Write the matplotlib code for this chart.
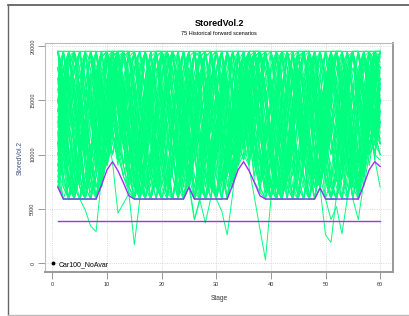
import matplotlib
matplotlib.use("Agg")
import matplotlib.pyplot as plt
from matplotlib.lines import Line2D

plt.rcParams["font.family"] = ["Liberation Sans", "DejaVu Sans"]

TITLE = "StoredVol.2"
SUBTITLE = "75 Historical forward scenarios"
LEGEND_LABEL = "Car100_NoAvar"

stages = list(range(1, 61))

# minimum-volume curve (purple)
min_volume = [7000, 5900, 5900, 5900, 5900, 5900, 5900, 5900, 7200, 8600,
              9340, 8500, 7400, 6200, 5900, 5900, 5900, 5900, 5900, 5900,
              5900, 5900, 5900, 5900, 7000, 5900, 5900, 5900, 5900, 5900,
              5900, 5900, 7200, 8600, 9340, 8500, 7400, 6200, 5900, 5900,
              5900, 5900, 5900, 5900, 5900, 5900, 5900, 5900, 6900, 5900,
              5900, 5900, 5900, 5900, 5900, 5900, 7200, 8600, 9340, 8900]
alarm_volume = 3900

# 75 forward scenarios, stored volume in hundreds
scenarios_h = [
    [195,160,120,90,140,195,195,170,130,150, 180,195,160,110,80,120,170,195,195,150, 110,90,130,180,195,160,120,70,100,150, 195,195,140,110,150,190,160,120,80,110, 160,195,180,130,90,120,170,195,150,100, 80,130,180,195,160,120,140,170,195,180],
    [120,80,59,100,150,195,160,110,75,95, 140,190,195,150,100,60,95,150,195,170, 120,80,59,110,160,195,140,90,130,180, 195,150,100,140,170,120,95,140,190,195, 160,110,70,59,100,150,195,180,130,90, 120,170,195,150,110,80,120,160,195,195],
    [180,195,195,150,100,70,59,90,140,180, 195,170,120,80,59,59,100,160,195,195, 180,130,90,140,180,150,100,59,59,120, 170,195,150,110,95,130,180,195,160,110, 70,59,90,140,190,195,170,120,80,110, 150,195,195,150,100,70,90,130,160,195],
    [100,140,190,195,160,110,70,110,160,195, 195,150,110,70,100,150,195,160,110,70, 59,100,150,195,170,120,80,120,170,195, 195,140,90,130,180,195,150,100,59,80, 130,180,195,170,120,80,59,100,150,195, 180,130,90,59,100,150,190,195,150,110],
    [150,110,70,59,80,130,180,195,195,160, 120,95,140,190,195,150,100,59,59,110, 160,195,195,140,95,60,100,150,195,170, 120,80,110,150,190,160,120,80,130,180, 195,160,110,70,59,100,150,190,150,110, 70,59,90,140,195,195,160,120,100,140],
    [75,59,59,100,150,195,195,150,100,130, 170,195,160,110,70,100,150,190,195,150, 100,60,59,90,140,190,195,150,100,60, 90,140,195,180,130,95,140,190,195,150, 100,59,59,110,160,195,195,140,90,130, 180,195,150,100,59,90,140,180,195,190],
    [195,195,170,120,80,59,100,150,190,195, 160,120,90,130,180,195,195,150,100,59, 80,130,180,195,150,100,70,110,160,195, 195,160,120,90,100,150,195,195,160,110, 70,100,150,195,195,150,100,70,100,150, 195,170,120,80,100,150,195,160,120,100],
    [130,170,195,160,110,70,59,80,120,160, 195,195,140,90,59,80,130,180,150,100, 140,190,160,110,80,120,170,195,195,150, 100,59,80,130,170,195,180,130,90,120, 160,195,150,100,59,59,100,150,195,170, 120,80,120,170,195,150,110,150,195,195],
    [90,130,180,195,195,150,100,59,85,130, 180,195,195,150,110,70,59,100,150,195, 195,160,110,70,100,150,195,170,120,80, 59,90,140,195,195,150,100,70,59,100, 150,195,180,130,90,130,180,195,150,100, 59,80,130,180,195,160,120,150,180,195],
    [170,120,80,59,100,150,195,195,150,110, 140,170,195,160,120,80,120,170,195,195, 150,100,59,59,90,140,190,195,150,100, 130,180,195,150,110,140,190,195,160,110, 80,59,100,150,195,195,150,100,75,120, 170,195,195,150,100,59,95,140,190,160],
    [110,150,130,160,120,140,175,150,120,140, 165,150,170,140,160,185,160,140,125,150, 170,155,135,160,180,165,145,130,155,175, 160,140,125,150,170,185,160,140,155,170, 150,130,145,165,180,160,140,120,145,165, 185,170,150,135,155,175,160,140,150,165],
    [85,70,59,75,95,80,65,90,110,100, 120,105,95,85,70,59,80,100,90,75, 65,59,85,110,95,80,70,59,75,100, 120,105,90,100,110,125,110,95,80,70, 59,75,95,110,90,70,59,80,100,85, 70,59,80,105,120,100,90,110,125,115],
    [195,180,160,175,195,195,185,170,190,195, 180,165,185,195,195,175,160,180,195,195, 185,170,150,170,190,195,195,180,160,175, 195,195,180,165,185,195,195,175,160,180, 195,195,190,170,155,175,195,195,180,165, 185,195,195,180,160,175,195,195,185,195],
    [140,100,70,59,59,80,120,170,195,195, 150,100,80,65,59,59,90,140,195,195, 195,150,100,70,75,110,160,195,195,150, 110,75,70,90,110,150,195,195,150,110, 75,59,59,90,140,190,195,160,120,80, 59,59,100,150,195,195,150,100,110,140],
    [160,195,150,110,150,195,140,90,130,190, 140,95,150,195,130,80,140,195,160,100, 59,120,180,130,80,140,195,150,100,160, 195,130,75,140,195,150,90,140,195,140, 90,150,195,140,80,130,190,150,100,160, 195,140,90,150,195,130,80,130,190,150],
    [70,100,140,180,195,195,160,120,100,90, 110,150,190,195,195,170,130,90,70,100, 140,180,195,195,160,120,80,59,70,110, 150,190,180,140,100,90,120,160,195,195, 170,130,90,59,80,120,160,195,160,120, 80,100,140,180,195,195,170,130,100,95],
    [195,150,100,59,59,59,100,160,195,195, 195,140,90,65,59,110,170,195,195,140, 90,59,59,100,160,195,195,140,80,59, 59,110,170,195,195,140,90,70,59,59, 100,160,195,195,140,80,59,59,90,150, 195,195,140,90,59,59,110,170,195,195],
    [120,160,195,195,195,170,130,100,120,160, 195,195,195,160,120,90,110,150,195,195, 195,180,140,100,120,160,195,195,195,160, 120,90,110,150,195,195,195,160,120,140, 180,195,195,170,130,100,130,170,195,195, 195,160,120,100,140,180,195,195,195,180],
    [80,59,59,59,90,130,100,70,80,100, 130,110,90,70,59,59,75,100,130,110, 80,59,59,75,110,140,110,80,59,59, 80,110,140,110,95,110,140,120,90,70, 59,59,90,120,150,120,90,70,90,110, 90,70,59,80,110,140,120,100,110,130],
    [195,195,195,160,110,70,90,140,190,195, 195,195,170,120,80,59,90,140,190,195, 195,195,150,100,70,100,150,195,195,195, 170,120,80,110,160,195,195,195,150,100, 59,80,130,180,195,195,195,150,100,130, 180,195,195,195,150,100,120,170,195,195],
    [100,140,120,80,59,100,150,130,90,120, 160,140,110,140,180,150,110,80,120,160, 140,100,70,110,150,130,95,130,170,150, 110,80,120,160,140,100,120,160,190,160, 120,90,130,170,150,110,80,120,150,130, 100,130,170,150,110,90,130,170,150,130],
    [180,140,180,195,150,110,150,195,160,120, 160,195,150,110,150,195,160,110,140,190, 170,120,90,140,190,160,110,140,190,195, 150,100,140,190,160,120,160,195,150,100, 140,190,170,120,90,130,180,195,150,110, 150,195,160,110,90,130,180,195,160,130],
    [150,100,59,59,120,195,195,130,70,100, 180,195,120,70,59,140,195,180,100,59, 59,130,195,195,120,59,59,140,195,160, 90,59,110,195,195,120,75,65,120,195, 195,130,59,59,150,195,160,90,70,130, 195,195,110,59,80,160,195,140,95,150],
    [130,110,90,110,130,150,130,110,100,120, 140,160,140,120,100,120,140,160,180,160, 140,120,100,120,140,160,140,120,100,120, 140,160,180,160,140,160,180,195,180,160, 140,120,100,120,140,160,180,160,140,120, 100,120,140,160,180,160,140,160,180,195],
    [195,170,130,90,70,59,59,80,120,170, 195,195,195,195,150,100,70,59,80,130, 180,195,195,160,110,70,59,59,100,150, 195,195,195,150,110,90,130,180,195,195, 160,110,70,59,59,90,140,195,195,195, 150,100,60,59,90,140,195,195,195,195],
    [110,80,120,170,140,95,130,180,150,110, 150,190,160,120,90,120,160,130,90,120, 165,195,160,115,85,120,160,125,90,120, 160,195,155,120,140,175,195,160,120,90, 130,170,140,100,130,170,195,160,120,150, 185,150,110,80,110,150,185,150,120,150],
    [90,59,59,80,140,195,195,195,170,120, 100,120,170,195,195,195,160,110,70,59, 59,90,150,195,195,195,150,100,70,100, 150,195,195,195,140,100,120,170,195,195, 195,150,100,60,59,100,160,195,195,170, 120,80,59,100,160,195,195,170,120,100],
    [160,120,75,59,59,59,85,130,180,195, 160,110,80,100,140,180,195,195,150,100, 60,59,59,90,130,175,195,195,150,100, 60,59,90,130,170,195,195,150,105,70, 59,59,80,120,165,195,195,160,115,75, 59,59,90,130,175,195,195,150,110,100],
    [195,195,195,195,180,140,100,130,170,195, 195,195,195,170,130,90,120,160,195,195, 195,195,180,140,100,130,170,195,195,195, 195,170,130,100,130,170,195,195,195,195, 180,140,100,130,170,195,195,195,195,170, 130,100,130,170,195,195,195,195,180,160],
    [70,100,130,100,70,59,80,110,140,110, 100,130,160,130,100,70,59,80,110,140, 170,140,110,80,70,100,130,160,190,160, 130,100,75,100,130,160,130,100,70,59, 59,80,110,140,170,140,110,80,70,100, 130,160,130,100,75,100,130,160,130,110],
    [195,140,90,140,195,150,100,60,72,120, 170,195,140,90,130,180,195,140,90,120, 180,195,150,100,70,120,175,195,150,100, 70,120,170,195,160,110,150,195,150,100, 60,100,160,195,160,110,70,100,150,195, 195,140,90,70,120,175,195,140,100,150],
    [125,165,195,180,140,100,70,100,145,190, 195,160,120,90,120,160,195,170,130,90, 59,90,135,180,195,165,125,85,70,110, 155,195,180,140,110,150,190,195,155,115, 80,110,150,190,195,160,120,80,90,135, 180,195,160,120,80,110,150,190,175,140],
    [85,120,160,195,195,195,150,105,75,100, 140,185,195,195,150,105,70,59,95,140, 185,195,195,150,100,65,59,90,135,180, 195,195,150,105,115,160,195,195,150,100, 70,59,95,140,185,195,195,150,110,75, 59,90,135,180,195,195,150,110,120,165],
    [150,195,195,150,100,70,100,150,195,195, 150,110,150,195,195,150,100,59,80,130, 180,195,195,150,100,59,80,130,180,195, 195,150,100,130,180,195,195,150,100,70, 100,150,195,195,150,100,59,80,130,180, 195,195,150,100,59,90,140,190,195,195],
    [100,75,59,59,59,70,95,125,100,90, 115,140,170,140,110,80,59,59,75,100, 125,155,125,95,70,59,59,80,110,140, 115,90,70,95,120,150,120,95,70,59, 59,80,105,135,165,135,105,80,70,95, 125,155,125,95,70,80,105,135,120,110],
    [195,195,170,140,165,195,195,175,135,170, 195,190,165,150,180,195,195,160,145,175, 195,195,185,150,165,195,190,170,140,175, 195,195,160,145,180,195,195,165,150,175, 195,185,170,150,175,195,195,165,140,170, 195,195,180,145,160,195,195,175,150,170],
    [75,110,150,190,160,120,80,59,75,110, 150,190,160,120,85,59,85,125,165,195, 165,125,85,59,85,125,165,195,160,120, 80,59,85,125,165,195,160,120,80,59, 85,125,165,195,160,120,80,59,85,125, 165,195,160,120,80,59,90,130,170,195],
    [140,180,195,195,150,100,59,59,90,140, 190,195,195,150,100,59,59,90,140,190, 195,195,150,100,70,59,90,140,190,195, 195,150,100,110,150,190,195,195,150,100, 59,59,90,140,190,195,195,150,100,59, 59,90,140,190,195,195,150,110,130,170],
    [195,155,120,85,130,165,195,150,120,165, 195,150,120,165,195,155,115,85,130,170, 195,150,115,80,125,165,195,155,120,160, 195,165,120,150,195,150,115,165,195,155, 120,80,130,170,195,150,115,85,120,165, 195,155,125,160,195,150,120,165,195,165],
    [70,59,59,59,80,110,90,70,85,120, 160,195,195,160,120,80,59,59,59,90, 130,100,70,59,80,120,160,195,195,160, 110,70,95,130,165,195,195,150,100,60, 59,59,80,120,100,75,59,59,70,110, 150,195,195,150,100,70,120,160,195,195],
    [180,130,90,130,180,195,150,110,150,190, 150,110,140,180,195,150,100,130,175,195, 160,120,80,120,165,195,160,120,80,120, 165,195,150,110,140,180,195,150,110,150, 190,160,120,80,120,165,195,155,115,150, 185,150,110,80,120,160,195,150,115,150],
    [95,130,100,70,100,135,100,70,100,140, 175,145,115,85,60,85,115,145,115,85, 60,85,115,145,175,145,115,85,60,85, 115,145,115,140,170,145,115,90,65,90, 120,150,120,90,60,90,120,150,120,90, 60,90,120,150,120,90,120,150,175,150],
    [195,195,195,150,100,59,59,59,100,150, 195,195,195,195,150,100,59,59,59,100, 150,195,195,195,150,100,59,59,59,100, 150,195,195,195,195,150,100,65,59,100, 150,195,195,195,150,100,59,59,100,150, 195,195,195,150,100,59,100,150,195,195],
    [115,150,185,195,160,125,90,125,160,195, 195,160,125,95,125,160,195,195,160,125, 90,60,90,125,160,195,160,125,90,125, 160,195,160,125,160,195,160,125,90,60, 90,125,160,195,160,125,90,60,90,125, 160,195,160,125,90,125,160,195,195,170],
    [160,120,80,59,59,95,135,175,195,160, 120,95,125,165,195,195,155,115,75,59, 85,125,165,195,155,115,75,59,85,125, 165,195,155,115,95,125,165,195,155,115, 75,59,85,125,165,195,155,115,75,100, 140,180,195,155,115,75,100,140,180,195],
    [130,90,59,59,59,59,90,130,170,195, 195,170,130,90,70,100,140,180,195,195, 170,130,90,59,70,110,150,190,195,170, 130,90,70,100,140,180,195,170,130,90, 59,59,90,130,170,195,195,170,130,90, 59,90,130,170,195,195,160,120,100,130],
    [195,175,195,195,170,195,195,180,195,195, 175,195,195,160,185,195,195,170,190,195, 195,175,155,180,195,195,170,190,195,195, 180,160,185,195,195,170,195,195,180,160, 185,195,195,175,195,195,170,150,175,195, 195,180,160,185,195,195,175,195,195,185],
    [70,95,120,145,120,95,70,59,75,100, 130,160,130,100,75,59,59,80,105,130, 155,130,105,80,70,59,80,105,130,155, 130,105,80,105,130,155,130,105,80,59, 59,80,105,130,155,130,105,80,70,95, 120,145,120,95,70,59,80,105,130,155],
    [150,195,165,105,75,115,165,195,155,125, 165,195,150,110,70,115,165,195,150,100, 70,120,170,195,155,105,65,115,165,195, 150,100,80,125,170,195,155,105,70,120, 170,195,150,100,65,115,165,195,155,105, 70,120,170,195,150,100,80,125,170,195],
    [110,70,59,90,140,195,195,160,110,90, 130,180,195,195,150,100,59,59,100,150, 195,195,160,110,70,59,100,150,195,195, 160,110,75,110,150,195,195,160,110,70, 59,100,150,195,195,160,110,70,100,150, 195,195,160,110,70,100,150,195,195,180],
    [170,195,195,195,160,120,80,59,80,120, 165,195,195,160,120,80,59,80,120,165, 195,195,160,120,80,59,80,120,165,195, 195,160,120,90,130,170,195,195,160,120, 80,59,80,120,165,195,195,160,120,80, 59,80,120,165,195,195,160,120,110,150],
    [90,125,160,195,195,195,160,125,90,125, 160,195,195,195,160,125,90,59,90,125, 160,195,195,195,160,125,90,59,90,125, 160,195,195,195,160,125,90,70,90,125, 160,195,195,195,160,125,90,59,90,125, 160,195,195,195,160,125,90,125,160,195],
    [195,150,105,65,105,150,195,195,150,105, 150,195,195,150,105,65,105,150,195,195, 150,105,65,105,150,195,195,150,105,65, 105,150,195,195,150,105,150,195,195,150, 105,65,105,150,195,195,150,105,75,105, 150,195,195,150,105,65,105,150,195,195],
    [135,100,70,100,135,160,135,100,70,100, 135,170,195,170,135,110,70,100,135,170, 195,180,135,100,70,100,135,160,195,170, 135,100,70,100,135,170,195,170,135,90, 70,100,135,170,185,170,135,100,70,100, 135,95,195,170,135,100,70,100,135,170],
    [195,195,150,110,70,59,100,150,195,195, 195,150,110,75,110,150,195,195,150,110, 70,59,100,150,195,195,150,110,70,59, 100,150,195,195,195,150,110,75,110,150, 195,195,150,110,70,59,100,150,195,195, 150,110,70,59,100,150,195,195,195,195],
    [75,59,75,110,75,59,90,130,90,120, 160,120,90,120,160,120,80,59,80,120, 80,59,80,120,160,120,80,59,80,120, 160,120,80,120,160,120,80,120,160,120, 80,59,80,120,80,59,80,120,160,120, 80,59,80,120,160,120,80,120,160,125],
    [140,180,150,120,150,180,195,165,135,165, 195,170,140,170,195,175,145,115,145,175, 195,175,145,115,145,175,195,175,145,115, 145,175,195,175,145,175,195,175,145,115, 145,175,195,175,145,115,145,175,195,175, 145,115,145,175,195,175,145,175,195,175],
    [110,160,195,195,140,90,59,59,100,150, 195,195,140,90,59,100,150,195,195,140, 90,59,59,100,150,195,195,140,90,59, 59,100,150,195,195,140,95,140,195,195, 140,90,59,59,100,150,195,195,140,90, 59,59,100,150,195,195,140,100,150,195],
    [180,140,100,70,59,59,59,90,130,170, 195,195,195,170,130,90,70,90,130,170, 195,195,195,160,120,80,59,59,90,130, 170,195,195,195,170,130,100,130,170,195, 195,195,160,120,80,59,59,90,130,170, 195,195,195,160,120,80,100,140,180,195],
    [100,130,165,130,100,130,165,195,165,130, 100,130,165,195,165,130,100,70,100,130, 165,195,165,130,100,70,100,130,165,195, 165,130,100,130,165,195,165,130,100,70, 100,130,165,195,165,130,100,70,100,130, 165,195,165,130,100,70,100,130,165,195],
    [195,170,140,110,80,59,90,125,160,195, 195,170,140,110,140,175,195,170,140,110, 80,59,90,125,160,195,170,140,110,80, 59,90,125,160,195,170,140,170,195,170, 140,110,80,59,90,125,160,195,170,140, 110,80,59,90,125,160,195,170,140,110],
    [80,110,90,70,59,80,110,90,75,95, 120,100,80,70,59,75,100,85,70,59, 75,95,80,65,75,95,120,100,80,65, 80,100,85,100,120,140,115,90,75,60, 75,95,80,65,59,75,100,85,70,60, 75,95,80,65,75,90,110,125,140,120],
    [165,195,195,165,130,165,195,195,165,130, 165,195,195,165,130,95,130,165,195,195, 165,130,95,130,165,195,195,165,130,95, 130,165,195,195,165,130,165,195,195,165, 130,95,130,165,195,195,165,130,95,130, 165,195,195,165,130,95,130,165,195,195],
    [120,80,59,59,90,130,170,195,195,160, 120,90,130,170,195,195,160,120,80,59, 59,90,130,170,195,195,160,120,80,59, 59,90,130,170,195,195,160,120,80,59, 59,90,130,170,195,195,160,120,80,59, 59,90,130,170,195,195,160,120,100,130],
    [195,195,160,125,160,195,195,160,125,90, 125,160,195,195,160,125,160,195,195,160, 125,90,125,160,195,195,160,125,160,195, 195,160,125,90,125,160,195,195,160,125, 160,195,195,160,125,90,125,160,195,195, 160,125,160,195,195,160,125,90,125,160],
    [90,120,150,180,195,170,140,110,80,100, 130,160,190,195,170,140,110,80,59,80, 110,140,170,195,195,165,135,105,75,59, 80,110,140,170,195,195,165,135,105,75, 59,80,110,140,170,195,195,165,135,105, 75,59,80,110,140,170,195,195,165,135],
    [150,110,75,59,59,59,59,80,110,150, 190,195,195,195,195,160,120,80,59,59, 59,59,90,130,170,195,195,195,195,160, 120,80,80,120,160,195,195,195,195,160, 120,80,59,59,59,59,90,130,170,195, 195,195,195,160,120,80,80,120,160,195],
    [195,165,135,165,195,165,135,105,135,165, 195,165,135,165,195,165,135,105,75,105, 135,165,195,165,135,165,195,165,135,105, 75,105,135,165,195,165,135,165,195,165, 135,105,75,105,135,165,195,165,135,165, 195,165,135,105,135,165,195,165,135,165],
    [105,140,175,140,105,70,105,140,175,195, 175,140,105,140,175,195,175,140,105,70, 105,140,175,195,175,140,105,70,105,140, 175,195,175,140,105,140,175,195,175,140, 105,70,105,140,175,195,175,140,105,140, 175,195,175,140,105,70,105,140,175,195],
    [170,130,90,59,90,130,170,130,90,130, 170,195,170,130,90,59,90,130,170,195, 170,130,90,59,90,130,170,195,170,130, 90,59,90,130,170,195,170,130,90,59, 90,130,170,195,170,130,90,59,90,130, 170,195,170,130,90,59,90,130,170,195],
    [150,110,75,59,59,49,34,29,80,130, 175,195,160,120,80,59,100,150,195,195, 150,100,59,59,75,40,58,37,60,100, 150,195,195,150,110,140,180,195,160,110, 70,59,100,150,195,195,150,100,75,120, 160,195,150,100,59,40,75,120,170,190],
    [195,160,120,80,110,150,195,195,150,120, 93,46,55,64,17,59,100,150,195,195, 160,120,80,110,150,195,170,120,80,59, 48,26,64,110,160,195,195,150,100,70, 110,160,195,170,130,90,120,160,195,59, 40,52,27,60,100,150,195,195,150,110],
    [110,150,195,195,160,120,80,59,100,140, 185,195,160,120,80,59,90,140,190,195, 195,150,100,59,90,140,190,195,160,120, 80,100,140,180,150,88,60,31,3,59, 100,150,195,195,150,100,60,59,69,26, 19,62,110,160,195,160,120,140,96,70],
    [140,180,195,150,100,59,59,90,140,185, 195,195,150,110,70,100,150,195,195,160, 120,80,59,59,70,40,60,100,150,195, 195,150,100,140,180,195,160,120,80,59, 90,140,190,195,150,100,59,80,120,160, 195,195,150,100,59,90,140,180,195,195],
    [195,150,105,70,105,150,195,170,130,95, 130,175,195,165,125,85,59,95,140,185, 195,165,125,85,115,160,195,170,130,90, 59,95,140,185,195,160,115,75,105,150, 195,170,130,90,59,95,140,185,195,160, 115,75,105,150,195,170,130,100,140,180],
]
UNIT = 100

GREEN = "#00FF7F"
PURPLE = "#A030F0"

fig = plt.figure(figsize=(4.09, 3.16), dpi=100)
ax = fig.add_axes([0.110, 0.139, 0.851, 0.725])

for row in scenarios_h:
    ax.plot(stages, [v * UNIT for v in row], color=GREEN, lw=0.7, zorder=2)
ax.plot(stages, min_volume, color=PURPLE, lw=1.0, zorder=3)
ax.plot([stages[0], stages[-1]], [alarm_volume, alarm_volume], color=PURPLE, lw=1.0, zorder=3)

ax.set_xlim(-1.36, 62.36)
ax.set_ylim(-830, 20280)
ax.set_xticks(range(0, 61, 10))
ax.set_yticks(range(0, 20001, 5000))
ax.tick_params(labelsize=4, length=5, width=0.6, color="#888888", labelcolor="#333333", pad=2)
for lab in ax.get_yticklabels():
    lab.set_rotation(90)
    lab.set_va("center")
ax.grid(True, ls=":", color="#cccccc", lw=0.6)
ax.set_axisbelow(True)
for side in ["left", "top"]:
    ax.spines[side].set_color("#bbbbbb")
    ax.spines[side].set_linewidth(0.8)
for side in ["right", "bottom"]:
    ax.spines[side].set_color("#999999")
    ax.spines[side].set_linewidth(1.4)

ax.set_xlabel("Stage", fontsize=4.8, color="#333333", labelpad=6)
ax.set_ylabel("StoredVol.2", fontsize=4.8, color="#3b4f7f", labelpad=5)

fig.text(0.536, 0.927, TITLE, ha="center", va="center", fontsize=6.5, weight="bold")
fig.text(0.536, 0.895, SUBTITLE, ha="center", va="center", fontsize=4)

ax.legend(handles=[Line2D([], [], ls="", marker="o", ms=1.8, color="black")],
          labels=[LEGEND_LABEL], loc="lower left", frameon=False, fontsize=5,
          handletextpad=0.3, handlelength=1, borderaxespad=0.2)

# outer panel frame
x0 = 8 / 409
y_top = 1 - 5 / 316
y_bot = 1 - 314.5 / 316
fig.add_artist(Line2D([x0, 1.01], [y_top, y_top], transform=fig.transFigure, color="#555555", lw=1.2))
fig.add_artist(Line2D([x0, x0], [y_top, y_bot], transform=fig.transFigure, color="#666666", lw=1.0))
fig.add_artist(Line2D([x0, 1.01], [y_bot, y_bot], transform=fig.transFigure, color="#bbbbbb", lw=1.0))

fig.savefig("out.png", dpi=100)
